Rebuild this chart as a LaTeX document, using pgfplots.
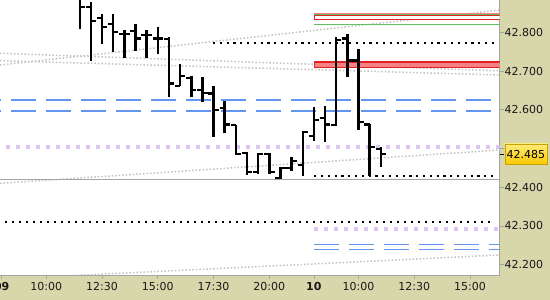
\documentclass[border=0pt]{standalone}
\usepackage{fontspec}
\setmainfont{DejaVu Sans}
\usepackage{pgfplots}
\usepackage{pgfplotstable}
\pgfplotsset{compat=1.18}
\definecolor{khaki}{RGB}{216,214,171}
\definecolor{lblue}{RGB}{100,150,240}
\definecolor{lav}{RGB}{222,196,245}
\definecolor{dgray}{RGB}{195,195,195}
\definecolor{zonefill}{RGB}{244,130,130}
\definecolor{zonered}{RGB}{225,35,35}
\definecolor{zgreen}{RGB}{100,190,90}
\definecolor{txt}{RGB}{25,25,25}
\definecolor{bord}{RGB}{165,165,165}

\pgfplotstableread{
t    O      H      L      C
3.5  42.888 42.895 42.808 42.866
4.0  42.866 42.878 42.726 42.830
4.5  42.836 42.846 42.769 42.814
5.0  42.821 42.846 42.750 42.800
5.5  42.795 42.806 42.733 42.795
6.0  42.804 42.821 42.752 42.784
6.5  42.793 42.806 42.733 42.793
7.0  42.784 42.813 42.743 42.784
7.5  42.783 42.787 42.634 42.668
8.0  42.661 42.717 42.661 42.687
8.5  42.681 42.688 42.634 42.651
9.0  42.651 42.684 42.621 42.644
9.5  42.642 42.661 42.530 42.599
10.0 42.604 42.623 42.539 42.562
10.5 42.561 42.561 42.483 42.486
11.0 42.488 42.492 42.432 42.439
11.5 42.439 42.489 42.434 42.486
12.0 42.486 42.488 42.434 42.440
12.5 42.424 42.452 42.421 42.449
13.0 42.449 42.479 42.443 42.468
13.5 42.457 42.545 42.430 42.543
14.0 42.533 42.606 42.520 42.574
14.5 42.578 42.610 42.517 42.562
15.0 42.561 42.787 42.558 42.780
15.5 42.784 42.796 42.685 42.727
16.0 42.727 42.756 42.548 42.569
16.5 42.562 42.562 42.430 42.503
17.0 42.499 42.505 42.453 42.485
}\ohlc

\pgfdeclareplotmark{ohlcopen}{\pgfpathmoveto{\pgfqpoint{-5.2pt}{0pt}}\pgfpathlineto{\pgfqpoint{0pt}{0pt}}\pgfusepathqstroke}
\pgfdeclareplotmark{ohlcclose}{\pgfpathmoveto{\pgfqpoint{0pt}{0pt}}\pgfpathlineto{\pgfqpoint{5.2pt}{0pt}}\pgfusepathqstroke}

\begin{document}
\begin{tikzpicture}
\fill[khaki] (0,0) rectangle (550pt,300pt);
\begin{axis}[
  at={(0pt,25pt)}, anchor=south west,
  scale only axis, width=499.5pt, height=275pt,
  xmin=-0.07623, xmax=22.3229,
  ymin=42.1734, ymax=42.8834,
  axis background/.style={fill=white},
  axis x line*=bottom, axis y line*=right,
  axis line style={draw=bord, line width=0.8pt},
  tick align=outside, major tick length=4pt,
  tick style={draw=bord, line width=0.8pt},
  xtick={0,2,4.5,7,9.5,12,14,16,18.5,21},
  xticklabels={\textbf{09},10:00,12:30,15:00,17:30,20:00,\textbf{10},10:00,12:30,15:00},
  ytick={42.2,42.3,42.4,42.5,42.6,42.7,42.8},
  /pgf/number format/fixed, /pgf/number format/fixed zerofill, /pgf/number format/precision=3, /pgf/number format/assume math mode=true,
  ticklabel style={font=\fontsize{11}{13}\selectfont, text=txt},
  yticklabel style={anchor=west, inner sep=0pt, xshift=1pt},
  xticklabel style={anchor=north, inner sep=0pt, yshift=-3pt},
]
% gray dotted trend lines
\addplot[dgray, line width=1.5pt, dash pattern=on 1.5pt off 2pt] coordinates {(-0.07623,42.7156) (22.3229,42.8576)};
\addplot[dgray, line width=1.5pt, dash pattern=on 1.5pt off 2pt] coordinates {(-0.07623,42.7458) (22.3229,42.7006)};
\addplot[dgray, line width=1.5pt, dash pattern=on 1.5pt off 2pt] coordinates {(-0.07623,42.7267) (22.3229,42.6898)};
\addplot[dgray, line width=1.5pt, dash pattern=on 1.5pt off 2pt] coordinates {(-0.07623,42.4101) (22.3229,42.4961)};
\addplot[dgray, line width=1.5pt, dash pattern=on 1.5pt off 2pt] coordinates {(-0.07623,42.1630) (22.3229,42.2250)};
% zones top
\addplot[draw=none, fill=zonefill] coordinates {(14.01,42.849) (22.4,42.849) (22.4,42.8429) (14.01,42.8429)} --cycle;
\addplot[draw=zonered, fill=white, line width=1pt] coordinates {(14.01,42.8434) (22.4,42.8434) (22.4,42.8336) (14.01,42.8336)} --cycle;
\addplot[zgreen, line width=1.3pt] coordinates {(14.01,42.8465) (22.4,42.8465)};
\addplot[zgreen, line width=1pt] coordinates {(14.01,42.8189) (22.4,42.8189)};
% red zone
\addplot[draw=zonered, fill=zonefill, line width=1pt] coordinates {(14.01,42.7255) (22.4,42.7255) (22.4,42.7100) (14.01,42.7100)} --cycle;
\addplot[zonered, line width=1.8pt] coordinates {(14.01,42.7240) (22.4,42.7240)};
% black dotted
\addplot[black, line width=2.2pt, dash pattern=on 2.2pt off 4.6pt] coordinates {(9.475,42.772) (22.07,42.772)};
\addplot[black, line width=2.2pt, dash pattern=on 2.2pt off 4.6pt] coordinates {(14.01,42.430) (22.07,42.430)};
\addplot[black, line width=2.2pt, dash pattern=on 2.2pt off 4.8pt] coordinates {(0.148,42.311) (22.07,42.311)};
% blue dashed
\addplot[lblue, line width=1.2pt, dash pattern=on 25pt off 10pt, dash phase=24pt] coordinates {(-0.07623,42.625) (22.3229,42.625)};
\addplot[lblue, line width=1.2pt, dash pattern=on 25pt off 10pt, dash phase=24pt] coordinates {(-0.07623,42.597) (22.3229,42.597)};
\addplot[lblue, line width=1.2pt, dash pattern=on 25pt off 10pt] coordinates {(14.01,42.253) (22.3229,42.253)};
\addplot[lblue, line width=1.2pt, dash pattern=on 25pt off 10pt] coordinates {(14.01,42.240) (22.3229,42.240)};
% lavender dotted
\addplot[lav, line width=4pt, dash pattern=on 4pt off 6pt, dash phase=4pt] coordinates {(-0.07623,42.505) (22.3229,42.505)};
\addplot[lav, line width=4pt, dash pattern=on 4pt off 6pt] coordinates {(14.01,42.292) (22.3229,42.292)};
% gray solid
\addplot[bord, line width=1pt] coordinates {(-0.07623,42.420) (22.3229,42.420)};
% OHLC bars
\addplot[draw=none, error bars/.cd, y dir=plus, y explicit, error mark=none,
  error bar style={draw=black, solid, line width=2.5pt}]
  table[x=t, y=L, y error expr=\thisrow{H}-\thisrow{L}] {\ohlc};
\addplot[only marks, mark=ohlcopen, mark options={draw=black, line width=2.2pt}] table[x=t, y=O] {\ohlc};
\addplot[only marks, mark=ohlcclose, mark options={draw=black, line width=2.2pt}] table[x=t, y=C] {\ohlc};
\end{axis}
% current price label
\draw[black, line width=1.5pt] (500pt,145.7pt) -- (503.5pt,145.7pt);
\shade[top color={rgb,255:red,255;green,236;blue,120}, bottom color={rgb,255:red,250;green,200;blue,0}, draw={rgb,255:red,200;green,160;blue,0}, line width=0.8pt] (505pt,135.7pt) rectangle (547.5pt,156pt);
\node[anchor=west, inner sep=0pt, text=black, font=\fontsize{11}{13}\selectfont] at (506.5pt,145.7pt) {42.485};
\pgfresetboundingbox
\useasboundingbox (0,0) rectangle (550pt,300pt);
\end{tikzpicture}
\end{document}
